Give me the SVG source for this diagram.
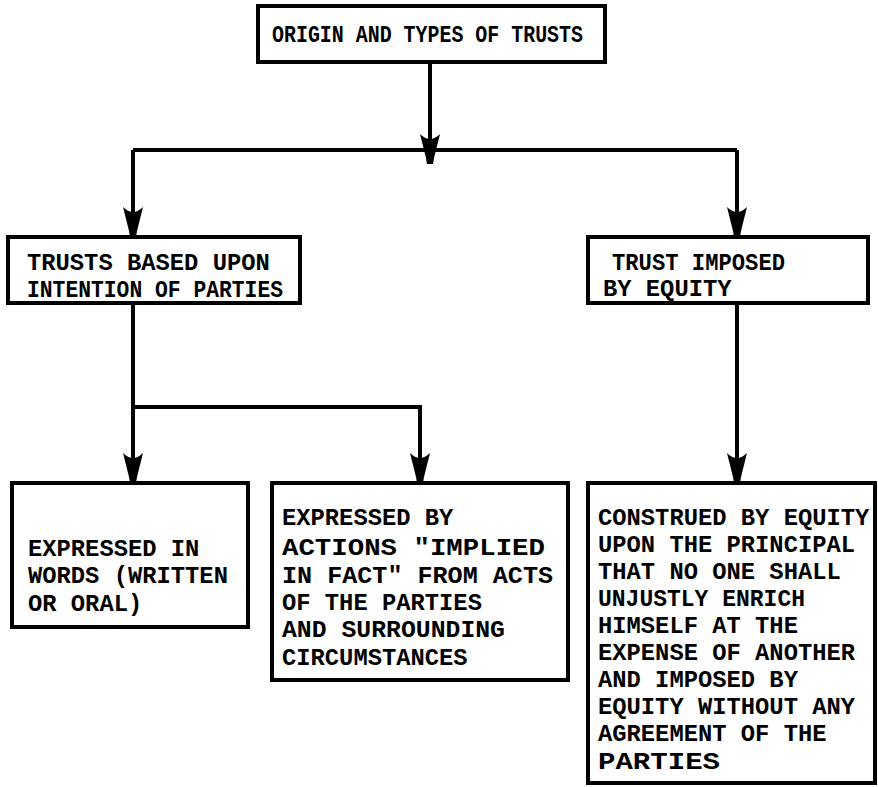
<svg xmlns="http://www.w3.org/2000/svg" width="878" height="787" viewBox="0 0 878 787">
<style>
.box{fill:#fff;stroke:#000;stroke-width:4}
.t{font-family:"Liberation Mono","DejaVu Sans Mono",monospace;font-weight:bold;font-size:23.8px;fill:#000}
.ln{fill:none;stroke:#000;stroke-width:4}
</style>
<defs>
<path id="ah" d="M-10,-30 Q0,-20 10,-30 L4,-6 L3,0 L-3,0 L-4,-6 Z" fill="#000"/>
</defs>
<rect width="878" height="787" fill="#fff"/>
<g id="connectors">
<path class="ln" d="M430,62 V162"/>
<path class="ln" d="M133,150 H737"/>
<path class="ln" d="M133,150 V237"/>
<path class="ln" d="M737,150 V237"/>
<path class="ln" d="M133,303 V483"/>
<path class="ln" d="M133,407 H420 V483"/>
<path class="ln" d="M737,303 V483"/>
<use href="#ah" x="430" y="164"/>
<use href="#ah" x="133" y="237"/>
<use href="#ah" x="737" y="237"/>
<use href="#ah" x="133" y="483"/>
<use href="#ah" x="420" y="483"/>
<use href="#ah" x="737" y="483"/>
</g>
<g id="n-origin">
<rect class="box" x="258" y="6" width="347" height="56"/>
<text class="t" x="272" y="42" style="font-size:23px" textLength="311" lengthAdjust="spacingAndGlyphs">ORIGIN AND TYPES OF TRUSTS</text>
</g>
<g id="n-intention">
<rect class="box" x="8" y="237" width="292" height="66"/>
<text class="t" x="27" y="270">TRUSTS BASED UPON</text>
<text class="t" x="27" y="297" textLength="256" lengthAdjust="spacingAndGlyphs">INTENTION OF PARTIES</text>
</g>
<g id="n-equity">
<rect class="box" x="588" y="237" width="280" height="66"/>
<text class="t" x="612" y="270" textLength="173" lengthAdjust="spacingAndGlyphs">TRUST IMPOSED</text>
<text class="t" x="603" y="296">BY EQUITY</text>
</g>
<g id="n-words">
<rect class="box" x="12" y="483" width="236" height="144"/>
<text class="t" x="28" y="556">EXPRESSED IN</text>
<text class="t" x="28" y="583">WORDS (WRITTEN</text>
<text class="t" x="28" y="611">OR ORAL)</text>
</g>
<g id="n-actions">
<rect class="box" x="272" y="483" width="296" height="197"/>
<text class="t" x="282" y="525">EXPRESSED BY</text>
<text class="t" x="282" y="555" textLength="263" lengthAdjust="spacingAndGlyphs">ACTIONS "IMPLIED</text>
<text class="t" x="282" y="583" textLength="271" lengthAdjust="spacingAndGlyphs">IN FACT" FROM ACTS</text>
<text class="t" x="282" y="610">OF THE PARTIES</text>
<text class="t" x="282" y="637" textLength="223" lengthAdjust="spacingAndGlyphs">AND SURROUNDING</text>
<text class="t" x="282" y="665">CIRCUMSTANCES</text>
</g>
<g id="n-construed">
<rect class="box" x="588" y="483" width="287" height="300"/>
<text class="t" x="598" y="525">CONSTRUED BY EQUITY</text>
<text class="t" x="598" y="552">UPON THE PRINCIPAL</text>
<text class="t" x="598" y="579">THAT NO ONE SHALL</text>
<text class="t" x="598" y="606" textLength="207" lengthAdjust="spacingAndGlyphs">UNJUSTLY ENRICH</text>
<text class="t" x="598" y="633">HIMSELF AT THE</text>
<text class="t" x="598" y="660">EXPENSE OF ANOTHER</text>
<text class="t" x="598" y="687">AND IMPOSED BY</text>
<text class="t" x="598" y="714">EQUITY WITHOUT ANY</text>
<text class="t" x="598" y="741">AGREEMENT OF THE</text>
<text class="t" x="598" y="769" textLength="122" lengthAdjust="spacingAndGlyphs">PARTIES</text>
</g>
</svg>
